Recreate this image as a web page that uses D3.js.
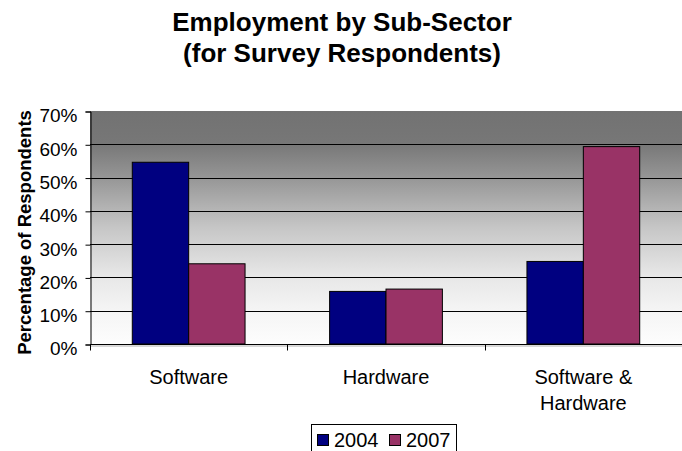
<!DOCTYPE html>
<html>
<head>
<meta charset="utf-8">
<script src="https://cdn.jsdelivr.net/npm/d3@7"></script>
<style>
  html, body { margin: 0; padding: 0; background: #fff; }
  svg { display: block; font-family: Arial, "Liberation Sans", sans-serif; }
</style>
</head>
<body>
<svg id="chart" width="682" height="451"></svg>
<script>
// Survey data: share of respondents by sub-sector
const categories = ["Software", "Hardware", "Software & Hardware"];
const categoryLines = [["Software"], ["Hardware"], ["Software &", "Hardware"]];
const seriesNames = ["2004", "2007"];
const values2004 = [54.6, 15.8, 24.8];
const values2007 = [24.1, 16.5, 59.3];
const yTicks = [0, 10, 20, 30, 40, 50, 60, 70];
const seriesColors = ["#000080", "#993366"];

const svg = d3.select("#chart");
const plot = { left: 90, right: 682, top: 111, bottom: 344 };

const series = [values2004, values2007];

const x = d3.scaleBand().domain(categories).range([plot.left, plot.right]).paddingInner(0).paddingOuter(0);
const xs = d3.scaleBand().domain(seriesNames).range([0, x.bandwidth()]).paddingInner(0).paddingOuter(0.75);
const y = d3.scaleLinear().domain([0, 70]).range([plot.bottom, plot.top]);

// Plot background gradient (dark at top fading to white)
const defs = svg.append("defs");
const grad = defs.append("linearGradient").attr("id", "bg").attr("x1", 0).attr("y1", 0).attr("x2", 0).attr("y2", 1);
[[0, "#727272"], [0.14, "#777777"], [0.3, "#999999"], [0.5, "#c6c6c6"], [0.7, "#e6e6e6"], [0.86, "#f5f5f5"], [1, "#fdfdfd"]]
  .forEach(([o, c]) => grad.append("stop").attr("offset", o).attr("stop-color", c));

svg.append("rect")
  .attr("x", plot.left).attr("y", plot.top)
  .attr("width", plot.right - plot.left).attr("height", plot.bottom - plot.top)
  .attr("fill", "url(#bg)");

// Horizontal gridlines
svg.append("g").selectAll("line")
  .data(yTicks.filter(t => t > 0 && t < 70))
  .join("line")
  .attr("x1", plot.left).attr("x2", plot.right)
  .attr("y1", d => Math.round(y(d)) + 0.5).attr("y2", d => Math.round(y(d)) + 0.5)
  .attr("stroke", "#000").attr("stroke-width", 1);

// Bars
const groups = svg.append("g").selectAll("g")
  .data(categories)
  .join("g")
  .attr("transform", d => `translate(${x(d)},0)`);

groups.selectAll("rect")
  .data((c, i) => seriesNames.map((s, j) => ({ s, v: series[j][i], j })))
  .join("rect")
  .attr("x", d => xs(d.s))
  .attr("y", d => y(d.v))
  .attr("width", xs.bandwidth())
  .attr("height", d => plot.bottom - y(d.v))
  .attr("fill", d => seriesColors[d.j])
  .attr("stroke", "#000").attr("stroke-width", 1);

// Y axis
const yAxis = d3.axisLeft(y).tickValues(yTicks).tickSize(5).tickFormat(d => d + "%");
const gy = svg.append("g").attr("transform", `translate(${plot.left + 0.5},0.5)`).call(yAxis);
gy.select(".domain").attr("stroke", "#000");
gy.selectAll(".tick line").attr("stroke", "#000");
gy.selectAll(".tick text")
  .attr("x", -13).attr("dy", "0.55em")
  .attr("font-size", "19px").attr("fill", "#000")
  .attr("font-family", "Arial, 'Liberation Sans', sans-serif");

// X axis with tick marks between categories
const gx = svg.append("g").attr("transform", `translate(0,${plot.bottom + 0.5})`);
gx.append("line").attr("x1", plot.left).attr("x2", plot.right).attr("stroke", "#000");
gx.append("line").attr("x1", plot.left).attr("x2", plot.right).attr("y1", 1.5).attr("y2", 1.5)
  .attr("stroke", "#b0b0b0");
gx.selectAll("line.tk")
  .data(categories.map(c => x(c)).concat([plot.right - 0.5]))
  .join("line").attr("class", "tk")
  .attr("x1", d => Math.round(d) + 0.5).attr("x2", d => Math.round(d) + 0.5)
  .attr("y1", 0).attr("y2", 6).attr("stroke", "#000");

const catText = svg.append("g").selectAll("text")
  .data(categories)
  .join("text")
  .attr("x", d => x(d) + x.bandwidth() / 2)
  .attr("y", 384)
  .attr("text-anchor", "middle")
  .attr("font-size", "20px").attr("fill", "#000");
catText.each(function (d, i) {
  d3.select(this).selectAll("tspan")
    .data(categoryLines[i])
    .join("tspan")
    .attr("x", x(d) + x.bandwidth() / 2)
    .attr("dy", (t, k) => k === 0 ? 0 : 26)
    .text(t => t);
});

// Title
const title = svg.append("text").attr("text-anchor", "middle")
  .attr("font-weight", "bold").attr("font-size", "26px").attr("fill", "#000");
title.append("tspan").attr("x", 342).attr("y", 31).text("Employment by Sub-Sector");
title.append("tspan").attr("x", 342).attr("y", 62).text("(for Survey Respondents)");

// Y axis title
svg.append("text")
  .attr("transform", `translate(31,${(108 + 357) / 2}) rotate(-90)`)
  .attr("text-anchor", "middle")
  .attr("font-weight", "bold").attr("font-size", "18.5px").attr("fill", "#000")
  .text("Percentage of Respondents");

// Legend
const legend = svg.append("g");
legend.append("rect")
  .attr("x", 311.5).attr("y", 424.5).attr("width", 145).attr("height", 32)
  .attr("fill", "#fff").attr("stroke", "#000").attr("stroke-width", 1);
const items = legend.selectAll("g.item")
  .data(seriesNames)
  .join("g").attr("class", "item")
  .attr("transform", (d, i) => `translate(${i === 0 ? 317 : 389},0)`);
items.append("rect")
  .attr("x", 0.5).attr("y", 434.5).attr("width", 11).attr("height", 11)
  .attr("fill", (d, i) => seriesColors[i]).attr("stroke", "#000").attr("stroke-width", 1);
items.append("text")
  .attr("x", 17).attr("y", 447)
  .attr("font-size", "20px").attr("fill", "#000")
  .text(d => d);
</script>
</body>
</html>
